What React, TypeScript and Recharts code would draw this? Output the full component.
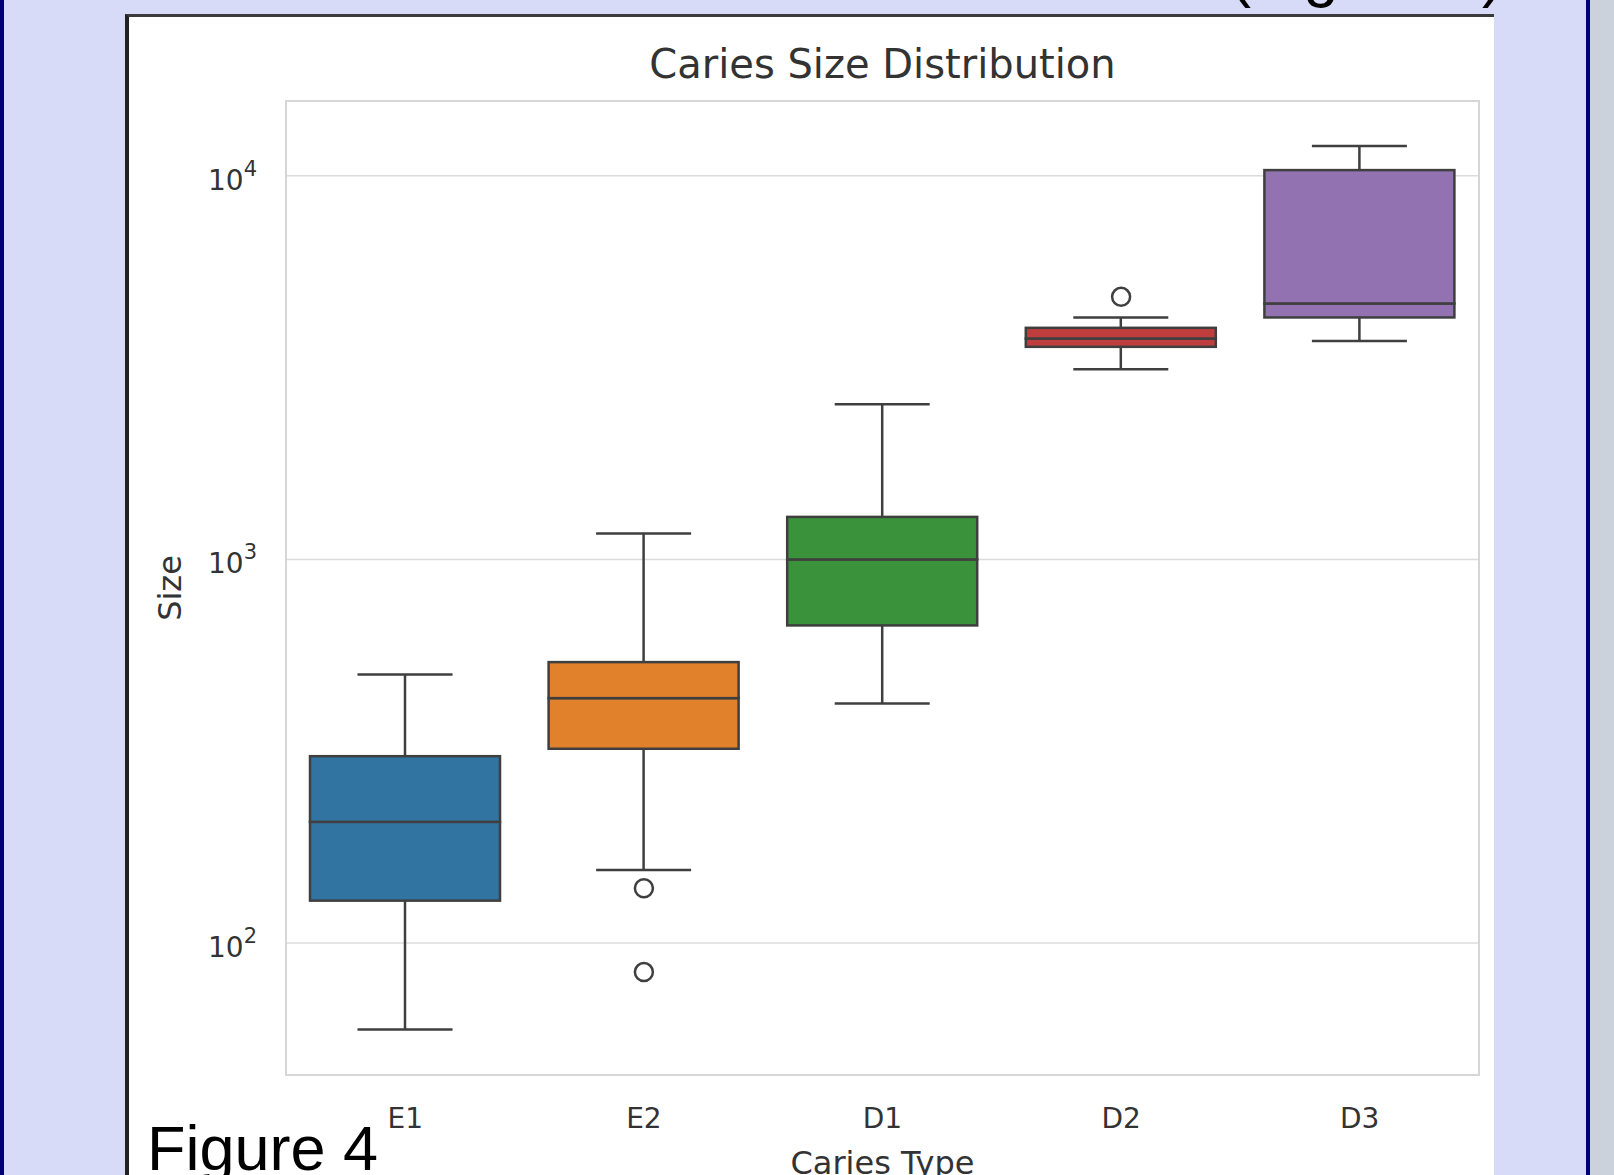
import React from 'react';
import {
  ComposedChart,
  Bar,
  Line,
  XAxis,
  YAxis,
  CartesianGrid,
  ReferenceArea,
  Cell
} from 'recharts';

// box plot statistics
const categories = ['E1', 'E2', 'D1', 'D2', 'D3'];
const whiskerLow = [59.5, 155, 421, 3133, 3713];
const q1 = [129, 321, 673, 3583, 4274];
const median = [207, 435, 1000, 3767, 4648];
const q3 = [307, 540, 1291, 4016, 10350];
const whiskerHigh = [501, 1169, 2540, 4274, 11954];
const outlierA = [null, 139, null, 4836, null];
const outlierB = [null, 84, null, null, null];

const boxColors = ['#3274a1', '#e1812c', '#3a923a', '#c03d3e', '#9372b2'];
const yTicks = [100, 1000, 10000];
const yDomain = [45.3, 15670];

const EDGE = '#3f3f3f';
const TEXT = '#333333';

const data = categories.map((name, i) => ({
  name,
  lowW: [whiskerLow[i], q1[i]],
  highW: [q3[i], whiskerHigh[i]],
  lowBox: [q1[i], median[i]],
  highBox: [median[i], q3[i]],
  outA: outlierA[i],
  outB: outlierB[i],
}));

const LowWhisker = (props: any) => {
  const { x, y, width, height } = props;
  const cx = x + width / 2;
  return (
    <g>
      <line x1={cx} x2={cx} y1={y} y2={y + height} stroke={EDGE} strokeWidth={2.5} />
      <line x1={cx - width / 4} x2={cx + width / 4} y1={y + height} y2={y + height} stroke={EDGE} strokeWidth={2.5} />
    </g>
  );
};

const HighWhisker = (props: any) => {
  const { x, y, width, height } = props;
  const cx = x + width / 2;
  return (
    <g>
      <line x1={cx} x2={cx} y1={y} y2={y + height} stroke={EDGE} strokeWidth={2.5} />
      <line x1={cx - width / 4} x2={cx + width / 4} y1={y} y2={y} stroke={EDGE} strokeWidth={2.5} />
    </g>
  );
};

const BoxPart = (props: any) => {
  const { x, y, width, height, fill } = props;
  return <rect x={x} y={y} width={width} height={height} fill={fill} stroke={EDGE} strokeWidth={2.5} />;
};

const OutlierDot = (props: any) => {
  const { cx, cy, value, index } = props;
  if (value == null || cy == null || isNaN(cy)) return <g key={`e-${index}`} />;
  return <circle key={`o-${index}`} cx={cx} cy={cy} r={9} fill="none" stroke={EDGE} strokeWidth={2.5} />;
};

const YTick = (props: any) => {
  const { x, y, payload } = props;
  const exp = Math.round(Math.log10(payload.value));
  return (
    <text x={x} y={y + 14} textAnchor="end" fontSize={28} fill={TEXT}>
      10<tspan dy={-14} fontSize={21}>{exp}</tspan>
    </text>
  );
};

const XTick = (props: any) => {
  const { x, y, payload } = props;
  return (
    <text x={x} y={y + 53} textAnchor="middle" fontSize={28} fill={TEXT}>
      {payload.value}
    </text>
  );
};

const SizeLabel = (props: any) => {
  const { viewBox } = props;
  const cx = viewBox.x + 41;
  const cy = viewBox.y + viewBox.height / 2;
  return (
    <text x={cx} y={cy} transform={`rotate(-90 ${cx} ${cy})`} textAnchor="middle" dominantBaseline="central" fontSize={32} fill={TEXT}>
      Size
    </text>
  );
};

const App = () => {
  return (
    <div style={{ position: 'absolute', left: 0, top: 0, width: 1614, height: 1175, background: '#d8dbf8', overflow: 'hidden', fontFamily: 'DejaVu Sans' }}>
      <div style={{ position: 'absolute', left: 0, top: 0, width: 4, height: 1175, background: '#000078' }} />
      <div style={{ position: 'absolute', left: 1586, top: 0, width: 4, height: 1175, background: '#000078' }} />
      <div style={{ position: 'absolute', left: 1590, top: 0, width: 24, height: 1175, background: '#cbd2db' }} />
      <div
        style={{
          position: 'absolute', left: 125, top: 14, width: 1369, height: 1161, background: '#fff',
          borderLeft: '4px solid #222', borderTop: '3px solid #3a3a3a', boxSizing: 'border-box'
        }}
      />
      <div style={{ position: 'absolute', left: 129, top: 17 }}>
        <ComposedChart
          width={1365}
          height={1158}
          data={data}
          margin={{ top: 84, right: 15, bottom: 0, left: 0 }}
          barGap={-190}
          barCategoryGap="10%"
          style={{ fontFamily: 'DejaVu Sans' }}
        >
          <CartesianGrid vertical={false} stroke="#dcdcdc" strokeWidth={1.5} />
          <ReferenceArea
            y1={yDomain[0]}
            y2={yDomain[1]}
            fill="none"
            stroke="#d6d6d6"
            strokeWidth={2}
            ifOverflow="visible"
            label={{ value: 'Caries Size Distribution', position: 'top', offset: 23, fontSize: 40, fill: TEXT }}
          />
          <XAxis
            dataKey="name"
            height={100}
            interval={0}
            tickLine={false}
            axisLine={false}
            tickSize={0}
            tickMargin={0}
            tick={<XTick />}
            label={{ value: 'Caries Type', position: 'insideBottom', offset: 1, fontSize: 32, fill: TEXT }}
          />
          <YAxis
            scale="log"
            domain={yDomain}
            ticks={yTicks}
            allowDataOverflow
            width={157}
            tickLine={false}
            axisLine={false}
            tickSize={0}
            tickMargin={29}
            tick={<YTick />}
            label={<SizeLabel />}
          />
          <Bar dataKey="lowW" barSize={190} shape={LowWhisker} isAnimationActive={false} />
          <Bar dataKey="highW" barSize={190} shape={HighWhisker} isAnimationActive={false} />
          <Bar dataKey="lowBox" barSize={190} shape={BoxPart} isAnimationActive={false}>
            {data.map((d, i) => <Cell key={d.name} fill={boxColors[i]} />)}
          </Bar>
          <Bar dataKey="highBox" barSize={190} shape={BoxPart} isAnimationActive={false}>
            {data.map((d, i) => <Cell key={d.name} fill={boxColors[i]} />)}
          </Bar>
          <Line dataKey="outA" stroke="none" dot={OutlierDot} activeDot={false} isAnimationActive={false} />
          <Line dataKey="outB" stroke="none" dot={OutlierDot} activeDot={false} isAnimationActive={false} />
        </ComposedChart>
      </div>
      <svg width={1614} height={1175} style={{ position: 'absolute', left: 0, top: 0, pointerEvents: 'none' }}>
        <text x={1230} y={-5} fontFamily="Liberation Sans" fontSize={63} fill="#000">(Figure 4)</text>
        <text x={147} y={1170} fontFamily="Liberation Sans" fontSize={63} fill="#000">Figure 4</text>
      </svg>
    </div>
  );
};

export default App;
